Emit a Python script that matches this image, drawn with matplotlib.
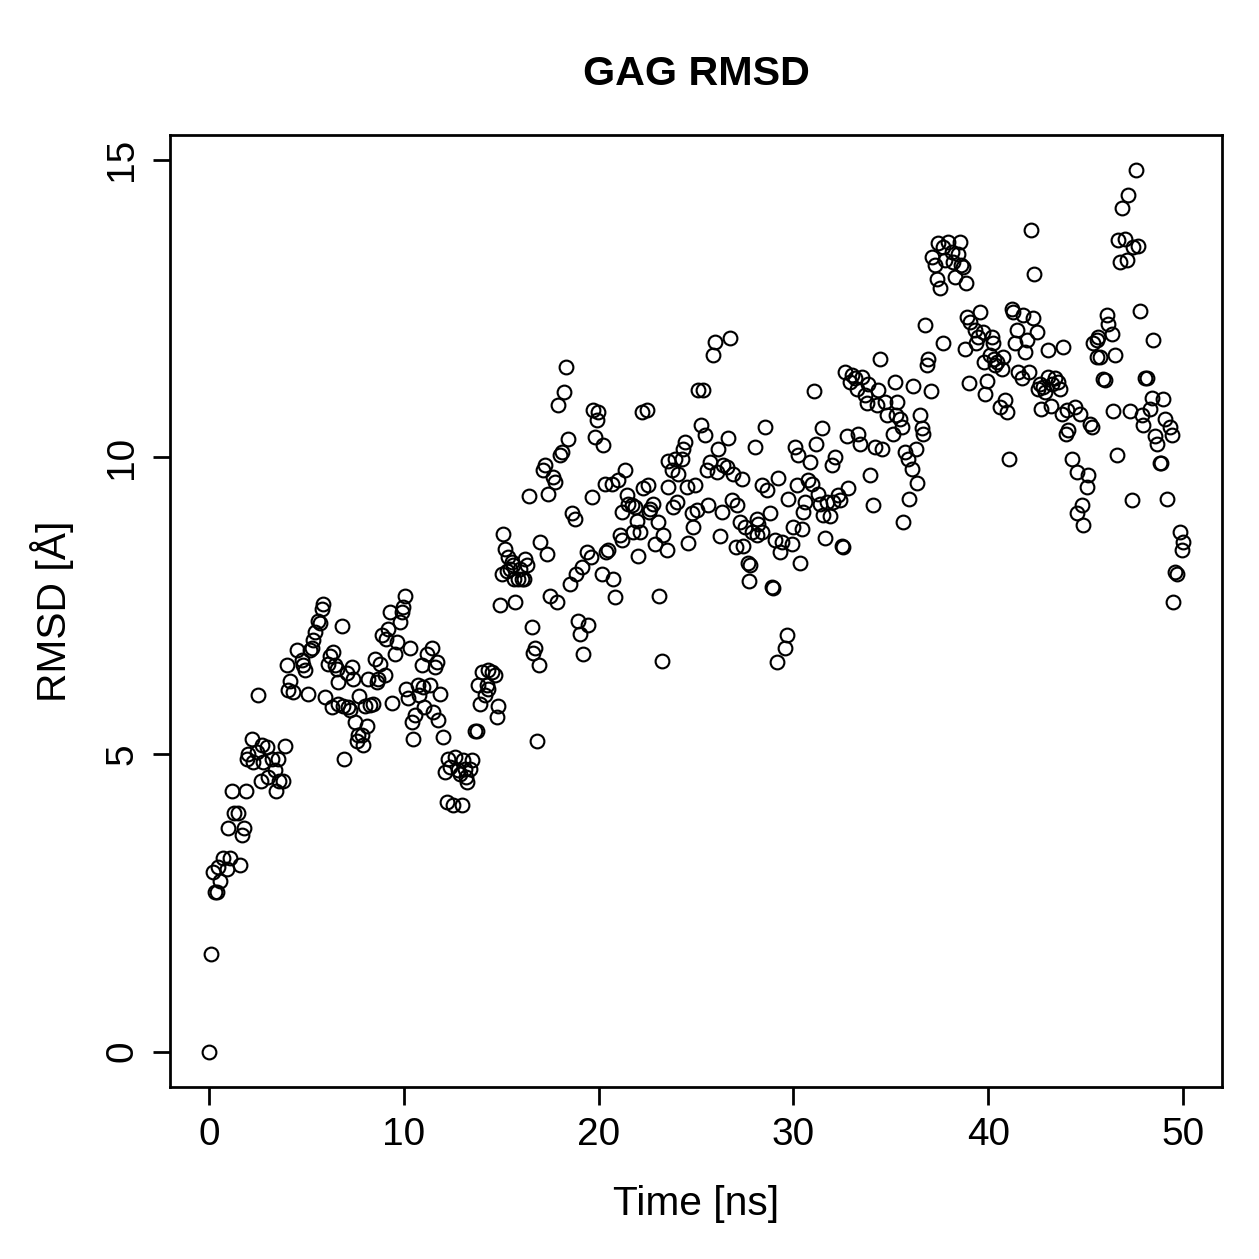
import numpy as np
import matplotlib
matplotlib.use("Agg")
import matplotlib.pyplot as plt

plt.rcParams['font.family'] = ['Liberation Sans', 'DejaVu Sans']

# ---- data (time in ns, RMSD in Angstrom) ----
time_a = [0.00,0.09,0.31,0.41,0.56,0.20,0.48,0.73,0.91,1.08,1.59,0.96,1.30,1.47,1.68,1.81,1.17,1.88,2.19,2.02,
          1.94,2.27,2.45,2.71,2.96,2.79,3.22,3.56,3.90,3.39,3.04,2.65,3.60,3.81,3.45,2.50,3.99,4.50,4.16,4.07,4.33]
rmsd_a = [0.00,1.64,2.69,2.69,2.87,3.03,3.10,3.26,3.08,3.25,3.14,3.77,4.02,4.02,3.65,3.77,4.39,4.39,5.25,5.01,
          4.93,4.87,5.04,5.15,5.12,4.87,4.93,4.93,5.14,4.73,4.62,4.56,4.56,4.56,4.39,6.00,6.50,6.75,6.24,6.08,6.05]

time_b = [5.87,5.78,5.61,5.70,5.44,5.35,5.27,5.18,4.76,4.84,4.93,5.10,6.81,6.38,6.21,6.12,6.47,6.55,7.32,7.07,
          7.41,6.64,5.95,6.30,6.60,6.89,7.15,7.24,7.71,7.49,8.09,7.66,7.84,7.92,7.58,6.95,8.01,8.26,8.43,8.18,
          8.61,8.69,9.03,8.52,8.78,9.29,9.20,8.86,9.08,9.63,9.55,9.38]
rmsd_b = [7.53,7.45,7.25,7.20,7.06,6.92,6.78,6.75,6.58,6.50,6.41,6.02,7.15,6.72,6.66,6.52,6.50,6.44,6.47,6.36,
          6.27,6.22,5.96,5.80,5.85,5.82,5.80,5.74,5.98,5.54,5.48,5.32,5.32,5.15,5.23,4.93,5.82,5.83,5.85,6.27,
          6.22,6.27,6.34,6.61,6.52,7.39,7.11,7.00,6.94,6.89,6.69,5.87]

time_c = [10.06,9.97,9.89,9.80,10.32,11.43,11.17,10.92,11.69,11.60,10.10,10.23,10.74,11.00,11.34,10.80,11.86,11.05,10.57,10.40,
          11.51,11.77,10.49,12.03,14.00,14.34,14.51,14.68,13.82,14.25,14.30,14.17,13.91,14.85,14.77,13.65,13.74,12.28,12.63,13.05,
          13.48,12.37,12.11,12.80,13.14,13.40,12.88,13.20,13.25,12.20,12.54,12.97,14.95]
rmsd_c = [7.67,7.48,7.39,7.23,6.78,6.78,6.69,6.50,6.55,6.47,6.10,5.94,6.16,6.13,6.16,5.99,6.02,5.80,5.66,5.54,
          5.71,5.57,5.26,5.29,6.38,6.41,6.38,6.33,6.16,6.16,6.10,5.99,5.85,5.82,5.63,5.40,5.40,4.93,4.96,4.90,
          4.90,4.79,4.70,4.73,4.76,4.76,4.67,4.62,4.54,4.20,4.14,4.14,7.51]

time_d = [18.32,18.22,17.93,18.44,18.10,18.02,17.25,17.16,17.67,17.76,17.42,16.44,18.62,18.79,15.11,15.19,15.36,15.54,16.22,16.31,
          15.45,15.02,15.28,15.62,15.96,16.05,15.68,15.88,16.15,15.71,16.99,17.33,17.50,17.85,19.39,19.13,18.85,18.53,16.56,18.96,
          19.45,19.04,19.21,16.73,16.65,16.95,16.82]
rmsd_d = [11.51,11.10,10.87,10.31,10.08,10.03,9.86,9.78,9.66,9.58,9.38,9.34,9.05,8.96,8.71,8.46,8.32,8.23,8.29,8.18,
          8.12,8.04,8.09,8.18,8.12,7.95,7.95,7.95,7.95,7.56,8.57,8.37,7.67,7.56,8.40,8.15,8.04,7.87,7.14,7.25,
          7.17,7.03,6.68,6.78,6.71,6.50,5.22]

time_e = [19.73,19.98,22.21,22.47,19.90,19.81,20.24,24.43,24.35,24.26,23.58,23.92,23.75,24.09,21.35,20.33,20.67,21.01,22.29,22.55,
          23.55,24.52,19.64,21.44,21.52,21.70,21.87,21.18,22.81,22.64,22.60,24.01,23.83,21.95,23.06,21.10,21.20,21.78,22.12,23.32,
          22.89,23.49,24.60,20.50,20.38,22.04,19.60,20.16,20.75,20.84,23.11,23.24]
rmsd_e = [10.79,10.76,10.76,10.79,10.62,10.34,10.20,10.25,10.14,9.97,9.94,9.97,9.78,9.72,9.78,9.55,9.55,9.61,9.47,9.52,
          9.50,9.50,9.33,9.36,9.21,9.19,9.16,9.08,9.21,9.13,9.08,9.24,9.16,8.93,8.90,8.68,8.60,8.74,8.74,8.68,
          8.54,8.43,8.56,8.43,8.41,8.34,8.32,8.04,7.95,7.65,7.66,6.57]

time_f = [25.98,26.75,25.85,25.11,25.36,25.28,25.45,28.54,26.66,28.03,26.14,25.72,25.55,26.06,26.40,26.57,26.91,27.34,29.22,28.37,
          28.63,24.95,29.74,26.83,27.09,25.63,26.32,25.03,24.78,24.86,28.79,27.25,27.51,28.11,28.20,27.86,28.15,28.40,26.23,29.05,
          29.40,29.31,27.05,27.43,27.68,27.77,27.73,28.88,28.97,29.65,29.57,29.14]
rmsd_f = [11.93,12.00,11.72,11.12,11.12,10.53,10.37,10.50,10.32,10.17,10.13,9.92,9.78,9.75,9.86,9.83,9.72,9.63,9.65,9.52,
          9.44,9.52,9.30,9.27,9.19,9.19,9.08,9.10,9.05,8.82,9.05,8.90,8.82,8.96,8.88,8.74,8.68,8.74,8.67,8.60,
          8.57,8.40,8.49,8.51,8.21,8.18,7.91,7.81,7.79,7.01,6.78,6.55]

time_g = [34.44,32.65,32.99,33.16,33.50,32.90,33.25,33.84,33.67,34.36,33.76,34.27,34.70,31.05,31.45,31.16,32.73,33.30,33.42,34.19,
          34.53,30.08,30.25,30.85,32.13,31.96,33.93,30.17,30.76,30.94,31.28,32.82,32.30,32.39,32.05,31.71,31.36,30.59,34.07,30.51,
          31.53,31.88,29.99,30.42,29.91,31.62,32.48,32.56,30.34,34.79]
rmsd_g = [11.64,11.43,11.37,11.32,11.35,11.26,11.15,11.23,11.04,11.12,10.90,10.87,10.92,11.11,10.48,10.22,10.36,10.39,10.21,10.17,
          10.13,10.17,10.03,9.92,10.00,9.87,9.70,9.52,9.61,9.55,9.38,9.47,9.36,9.27,9.24,9.24,9.21,9.24,9.20,9.08,
          9.03,9.00,8.82,8.79,8.54,8.63,8.51,8.49,8.22,10.70]

time_h = [37.44,37.95,38.55,37.10,37.27,37.69,38.12,38.46,37.78,38.17,38.60,38.72,38.29,37.35,37.52,38.86,36.75,37.66,36.92,36.84,
          38.81,39.58,38.89,39.06,39.32,39.75,39.49,39.37,39.80,39.00,39.92,39.83,35.21,36.15,37.05,35.30,35.25,35.47,35.56,35.13,
          36.50,36.58,36.67,35.73,35.90,36.29,36.07,36.36,35.95,35.64]
rmsd_h = [13.59,13.62,13.62,13.36,13.22,13.53,13.45,13.42,13.31,13.28,13.22,13.20,13.03,13.00,12.84,12.93,12.21,11.92,11.65,11.54,
          11.82,12.44,12.35,12.27,12.13,12.10,12.02,11.91,11.60,11.25,11.27,11.06,11.26,11.20,11.11,10.92,10.70,10.64,10.50,10.39,
          10.70,10.48,10.39,10.08,9.97,10.14,9.79,9.57,9.30,8.90]

time_i = [42.18,42.36,41.20,41.29,41.80,42.31,42.49,41.46,41.97,41.37,41.89,43.08,43.85,40.18,40.26,40.09,40.30,40.43,40.77,40.69,
          40.35,41.54,41.72,42.11,42.66,43.05,43.43,43.59,42.83,42.57,42.91,43.68,43.26,40.86,40.60,40.95,42.70,43.20,43.77,44.03,
          44.45,44.71,44.11,44.00,41.08,44.28,44.54,44.80,44.57,44.88]
rmsd_i = [13.81,13.08,12.49,12.44,12.38,12.33,12.10,12.13,11.96,11.91,11.77,11.79,11.85,12.02,11.91,11.71,11.65,11.60,11.68,11.48,
          11.54,11.43,11.32,11.42,11.23,11.35,11.32,11.26,11.18,11.15,11.09,11.15,11.23,10.95,10.84,10.76,10.80,10.86,10.73,10.79,
          10.84,10.73,10.45,10.39,9.97,9.97,9.75,9.20,9.05,8.85]

time_j = [47.57,47.19,46.88,46.67,47.02,47.45,47.70,46.76,47.11,47.79,46.08,46.16,46.34,45.65,45.56,45.39,45.60,45.74,46.50,48.47,
          45.90,45.99,48.05,48.13,48.39,48.98,48.30,47.88,47.96,49.07,49.33,49.42,48.56,48.65,46.42,47.28,45.22,45.31,46.59,48.82,
          48.87,45.13,45.05,47.36,49.16,49.84,50.00,49.93,49.58,49.67,49.50]
rmsd_j = [14.82,14.40,14.18,13.64,13.67,13.53,13.55,13.28,13.31,12.45,12.38,12.24,12.07,12.02,11.96,11.91,11.68,11.68,11.72,11.96,
          11.31,11.29,11.32,11.33,10.99,10.97,10.81,10.70,10.54,10.63,10.50,10.37,10.35,10.21,10.77,10.77,10.56,10.50,10.04,9.90,
          9.89,9.69,9.50,9.27,9.30,8.74,8.57,8.43,8.07,8.04,7.56]

x_ticks = [0, 10, 20, 30, 40, 50]
y_ticks = [0, 5, 10, 15]
title = "GAG RMSD"
x_label = "Time [ns]"
y_label = "RMSD [Å]"

time_ns = np.array(time_a + time_b + time_c + time_d + time_e + time_f + time_g + time_h + time_i + time_j)
rmsd = np.array(rmsd_a + rmsd_b + rmsd_c + rmsd_d + rmsd_e + rmsd_f + rmsd_g + rmsd_h + rmsd_i + rmsd_j)
assert len(time_ns) == len(rmsd)

# ---- figure ----
W = H = 1259
dpi = 180
fig = plt.figure(figsize=(W / dpi, H / dpi), dpi=dpi, facecolor='white')
ax = fig.add_axes([170 / W, 1 - 1087 / H, (1222 - 170) / W, (1087 - 135) / H])

ax.plot(time_ns, rmsd, linestyle='none', marker='o', markersize=5.5,
        markerfacecolor='none', markeredgecolor='black', markeredgewidth=0.85)

def r_range(v):
    lo, hi = float(np.min(v)), float(np.max(v))
    d = (hi - lo) * 0.04
    return lo - d, hi + d

ax.set_xlim(*r_range(time_ns))
ax.set_ylim(*r_range(rmsd))
ax.set_xticks(x_ticks)
ax.set_yticks(y_ticks)
ax.set_xticklabels([str(t) for t in x_ticks])
ax.set_yticklabels([str(t) for t in y_ticks])

for s in ax.spines.values():
    s.set_linewidth(1.1)
    s.set_color('black')

ax.tick_params(axis='both', direction='out', length=7, width=1.1, labelsize=15.5, color='black')
ax.tick_params(axis='x', pad=5)
ax.tick_params(axis='y', pad=5, labelrotation=90)
for lab in ax.get_yticklabels():
    lab.set_va('center')

ax.set_xlabel(x_label, fontsize=16.3, va='baseline')
ax.xaxis.set_label_coords(0.5, (1087 - 1215) / 952)
ax.set_ylabel(y_label, fontsize=16.3, rotation=90, rotation_mode='anchor', ha='center', va='baseline')
ax.yaxis.set_label_coords((66 - 170) / 1052, 0.5)

ax.set_title(title, fontsize=16.5, fontweight='bold', y=(1087 - 85) / 952, va='baseline', pad=0)

fig.savefig('out.png', dpi=dpi, facecolor='white')
